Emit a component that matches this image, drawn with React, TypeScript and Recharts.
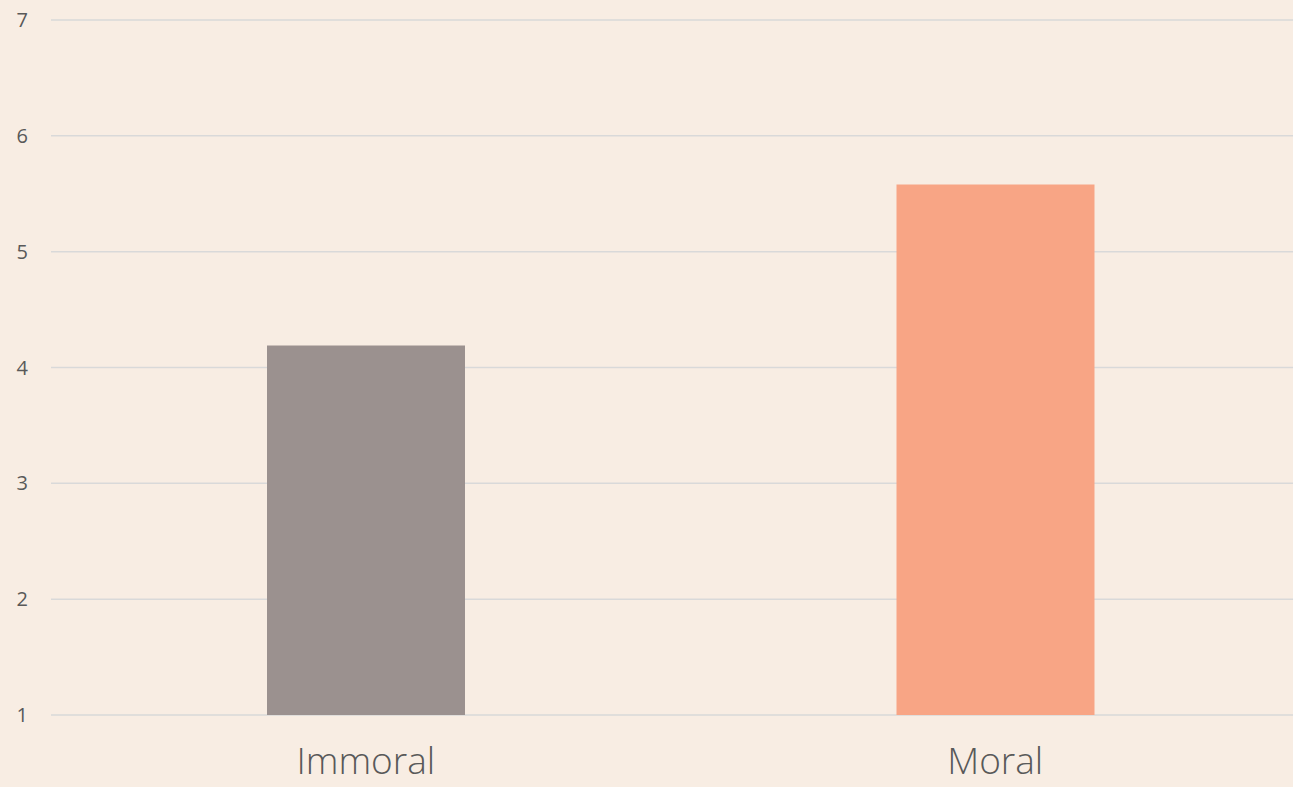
import { Bar, BarChart, CartesianGrid, Cell, XAxis, YAxis } from "recharts";

const categories = ["Immoral", "Moral"];
const scores = [4.19, 5.58];
const barColors = ["#9B918F", "#F8A585"];
const yTicks = [1, 2, 3, 4, 5, 6, 7];

const data = categories.map((name, i) => ({ name, score: scores[i] }));

export default function App() {
  return (
    <div
      style={{
        position: "fixed",
        top: 0,
        left: 0,
        width: 1293,
        height: 787,
        overflow: "hidden",
        background: "#F8EDE3",
      }}
    >
      <BarChart
        width={1310}
        height={787}
        data={data}
        margin={{ top: 20, right: 0, bottom: 0, left: 0 }}
      >
        <CartesianGrid vertical={false} stroke="#D9D9D9" strokeWidth={1.5} />
        <XAxis
          dataKey="name"
          height={72}
          axisLine={false}
          tickLine={false}
          tickSize={0}
          tickMargin={33}
          tick={{ fill: "#595959", fontSize: 37, fontFamily: "Open Sans", fontWeight: 300 }}
        />
        <YAxis
          domain={[1, 7]}
          ticks={yTicks}
          width={51}
          axisLine={false}
          tickLine={false}
          tickSize={0}
          tickMargin={23}
          fontSize={20}
          tick={{ fill: "#595959", fontSize: 20, fontFamily: "Open Sans" }}
        />
        <Bar dataKey="score" barSize={198} isAnimationActive={false}>
          {data.map((d, i) => (
            <Cell key={d.name} fill={barColors[i]} />
          ))}
        </Bar>
      </BarChart>
    </div>
  );
}
